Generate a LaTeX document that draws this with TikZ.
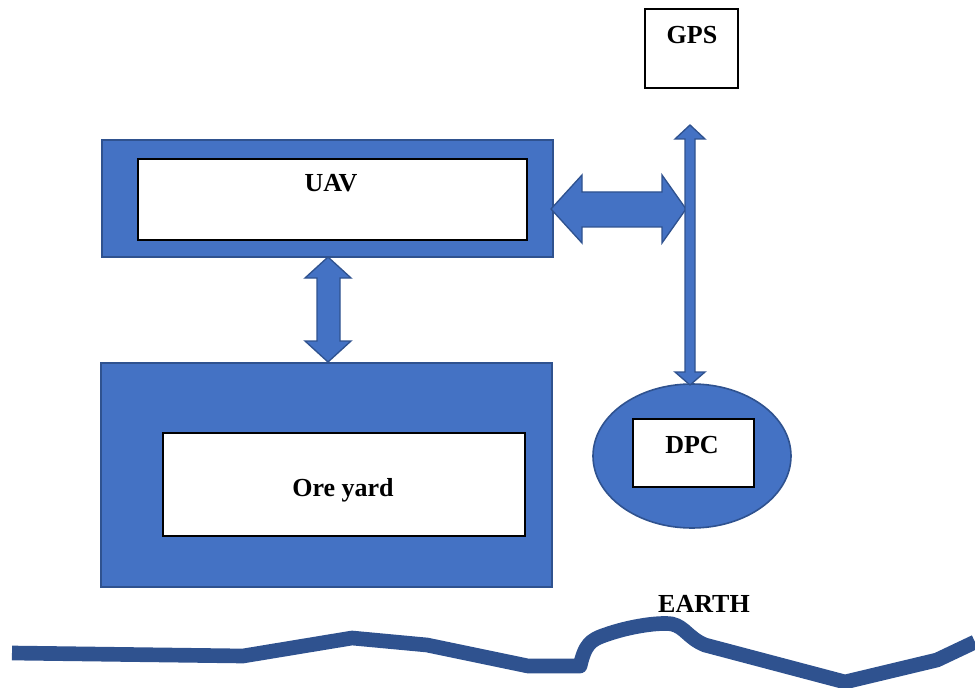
\documentclass[tikz,border=0pt]{standalone}
\usepackage{fontspec}
\setmainfont{Liberation Serif}
\usetikzlibrary{fit,shapes.geometric}
\definecolor{bfill}{HTML}{4472C4}
\definecolor{bline}{HTML}{2F528F}
\begin{document}
\begin{tikzpicture}[x=0.75pt,y=-0.75pt,
  outerbox/.style={draw=bline, line width=1.2pt, fill=bfill, inner sep=0pt},
  innerbox/.style={draw=black, line width=1pt, fill=white, inner sep=0pt},
  lbl/.style={font=\fontsize{19.5}{23}\selectfont\bfseries, inner sep=0pt, anchor=base},
  blockarrow/.style={draw=bline, line width=1pt, fill=bfill, line join=miter},
  earthline/.style={draw=bline, line width=11pt, line join=round}]
\useasboundingbox (0,0) rectangle (975,688);

% UAV
\node (uav) [outerbox, fit={(102,140)(553,257)}] {};
\node (uavin) [innerbox, fit={(138,159)(527,240)}] {};
\node (uavt) [lbl] at (331,192) {UAV};

% Ore yard
\node (ore) [outerbox, fit={(101,363)(552,587)}] {};
\node (orein) [innerbox, fit={(163,433)(525,536)}] {};
\node (oret) [lbl] at (343,496) {Ore yard};

% GPS
\node (gps) [innerbox, fit={(645,9)(738,88)}] {};
\node (gpst) [lbl] at (692,44) {GPS};

% DPC
\node (dpc) [outerbox, ellipse, minimum width=198*0.75pt, minimum height=144*0.75pt] at (692,456) {};
\node (dpcin) [innerbox, fit={(633,419)(754,487)}] {};
\node (dpct) [lbl] at (692,453) {DPC};

% EARTH label
\node (earth) [lbl] at (704,612) {EARTH};

% vertical double arrow UAV <-> Ore yard
\draw[blockarrow] (328,257) -- (351,278) -- (340,278) -- (340,341) -- (351,341)
  -- (328,362) -- (305,341) -- (317,341) -- (317,278) -- (305,278) -- cycle;

% horizontal double arrow UAV <-> line
\draw[blockarrow] (551,209) -- (582,175) -- (582,192) -- (662,192) -- (662,175)
  -- (686,209) -- (662,243) -- (662,227) -- (582,227) -- (582,243) -- cycle;

% vertical arrow GPS <-> DPC
\draw[blockarrow] (690,125) -- (705,139) -- (695,139) -- (695,372) -- (705,372)
  -- (690,385) -- (675,372) -- (685,372) -- (685,139) -- (675,139) -- cycle;

% earth line
\draw[earthline] (12,653) -- (243,656) -- (352,638) -- (427,645) -- (528,666)
  -- (580,666) .. controls (585,645) and (590,640) .. (605,635)
  .. controls (630,626) and (660,622) .. (672,624)
  .. controls (685,627) and (688,638) .. (705,645)
  -- (845,682) -- (937,660) -- (975,642);
\end{tikzpicture}
\end{document}
